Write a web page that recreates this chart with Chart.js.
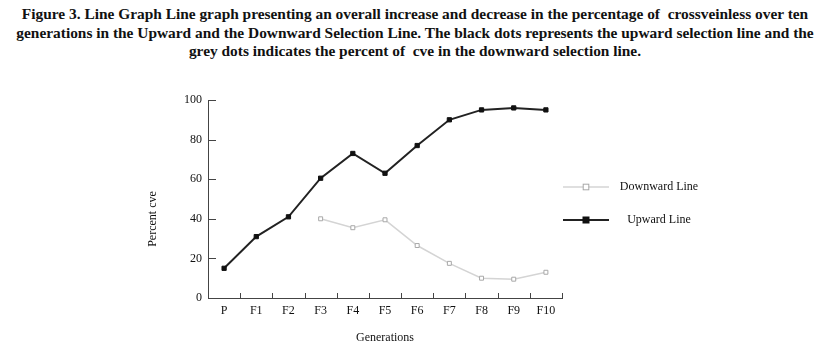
<!DOCTYPE html>
<html>
<head>
<meta charset="utf-8">
<script src="https://cdn.jsdelivr.net/npm/chart.js@4.4.1/dist/chart.umd.min.js"></script>
<style>
  html, body { margin: 0; padding: 0; background: #fff; }
  body { width: 830px; height: 352px; position: relative; overflow: hidden; }
  #title { position: absolute; left: 0; top: 5px; width: 830px; text-align: center;
           font-family: "Liberation Serif", serif; font-weight: bold; font-size: 15.4px;
           line-height: 18.5px; color: #111; }
  #title div { white-space: nowrap; }
  #wrap { position: absolute; left: 0; top: 0; width: 830px; height: 352px; }
</style>
</head>
<body>
<div id="title">
  <div>Figure 3. Line Graph Line graph presenting an overall increase and decrease in the percentage of&nbsp; crossveinless over ten</div>
  <div>generations in the Upward and the Downward Selection Line. The black dots represents the upward selection line and the</div>
  <div>grey dots indicates the percent of&nbsp; cve in the downward selection line.</div>
</div>
<div id="wrap"><canvas id="c" width="830" height="352"></canvas></div>
<script>
const categories = ["P", "F1", "F2", "F3", "F4", "F5", "F6", "F7", "F8", "F9", "F10"];
const downwardLine = [null, null, null, 40, 35.5, 39.5, 26.5, 17.5, 10, 9.5, 13];
const upwardLine = [15, 31, 41, 60.5, 73, 63, 77, 90, 95, 96, 95];
const yTicks = [0, 20, 40, 60, 80, 100];
const seriesNames = ["Downward Line", "Upward Line"];
const axisTitles = { x: "Generations", y: "Percent cve" };

const SERIF = '"Liberation Serif", "Times New Roman", serif';
const AXIS_COLOR = '#444';

const decorPlugin = {
  id: 'decor',
  afterDraw(chart) {
    const ctx = chart.ctx;
    const xs = chart.scales.x, ys = chart.scales.y;
    ctx.save();
    ctx.strokeStyle = AXIS_COLOR;
    ctx.lineWidth = 1;
    for (let i = 0; i <= categories.length; i++) {
      const px = Math.round(xs.getPixelForValue(i - 0.5)) + 0.5;
      ctx.beginPath();
      ctx.moveTo(px, ys.bottom);
      ctx.lineTo(px, ys.bottom - 5);
      ctx.stroke();
    }
    ys.ticks.forEach(t => {
      if (t.value === 0) return;
      const py = Math.round(ys.getPixelForValue(t.value)) + 0.5;
      ctx.beginPath();
      ctx.moveTo(xs.left, py);
      ctx.lineTo(xs.left + 8, py);
      ctx.stroke();
    });
    ctx.fillStyle = '#111';
    ctx.font = '12px ' + SERIF;
    ctx.textAlign = 'center';
    ctx.textBaseline = 'middle';
    ctx.fillText(axisTitles.x, (xs.left + xs.right) / 2, 338);
    ctx.save();
    ctx.translate(153, (ys.top + ys.bottom) / 2 + 20);
    ctx.rotate(-Math.PI / 2);
    ctx.fillText(axisTitles.y, 0, 0);
    ctx.restore();
    const legendY = [187, 220];
    chart.data.datasets.forEach((ds, i) => {
      const y = legendY[i];
      ctx.strokeStyle = ds.borderColor;
      ctx.lineWidth = ds.borderWidth;
      ctx.beginPath();
      ctx.moveTo(563, y);
      ctx.lineTo(609, y);
      ctx.stroke();
      const r = ds.pointRadius;
      ctx.fillStyle = ds.pointBackgroundColor;
      ctx.strokeStyle = ds.pointBorderColor;
      ctx.lineWidth = ds.pointBorderWidth;
      ctx.fillRect(586 - r, y - r, 2 * r, 2 * r);
      ctx.strokeRect(586 - r, y - r, 2 * r, 2 * r);
      ctx.fillStyle = '#111';
      ctx.font = '12px ' + SERIF;
      ctx.textAlign = 'center';
      ctx.fillText(ds.label, 659, y);
    });
    ctx.restore();
  }
};

new Chart(document.getElementById('c'), {
  type: 'line',
  data: {
    labels: categories,
    datasets: [
      {
        label: seriesNames[0],
        data: downwardLine,
        borderColor: '#d4d4d4',
        borderWidth: 1.5,
        pointStyle: 'rect',
        pointRadius: 2.8,
        pointBackgroundColor: '#ffffff',
        pointBorderColor: '#a8a8a8',
        pointBorderWidth: 1,
        tension: 0
      },
      {
        label: seriesNames[1],
        data: upwardLine,
        borderColor: '#222222',
        borderWidth: 2,
        pointStyle: 'rect',
        pointRadius: 3,
        pointBackgroundColor: '#111111',
        pointBorderColor: '#111111',
        pointBorderWidth: 1,
        tension: 0
      }
    ]
  },
  options: {
    responsive: false,
    animation: false,
    layout: { padding: { left: 0, right: 268, top: 100, bottom: 0 } },
    plugins: { legend: { display: false }, tooltip: { enabled: false }, title: { display: false } },
    scales: {
      x: {
        offset: true,
        grid: { display: false, drawTicks: false },
        border: { display: true, color: AXIS_COLOR, width: 1 },
        ticks: { color: '#111', font: { family: SERIF, size: 12 }, padding: 6, maxRotation: 0, autoSkip: false },
        afterFit(s) { s.height = 54; }
      },
      y: {
        min: 0, max: 100,
        afterBuildTicks(s) { s.ticks = yTicks.map(v => ({ value: v })); },
        grid: { display: false, drawTicks: false },
        border: { display: true, color: AXIS_COLOR, width: 1 },
        ticks: { color: '#111', font: { family: SERIF, size: 12 }, padding: 6 },
        afterFit(s) { s.width = 208; }
      }
    }
  },
  plugins: [decorPlugin]
});
</script>
</body>
</html>
